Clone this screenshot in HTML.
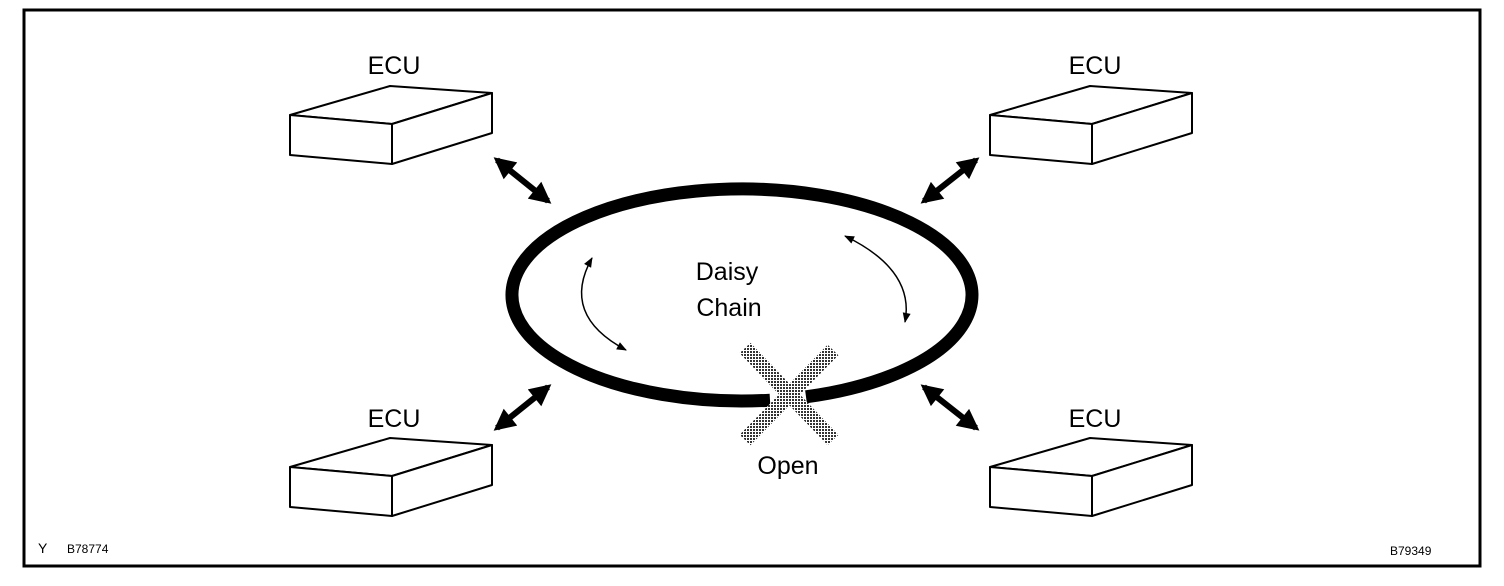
<!DOCTYPE html>
<html><head><style>body{margin:0;background:#fff}svg{display:block}</style></head><body>
<svg width="1504" height="586" xmlns="http://www.w3.org/2000/svg" font-family="Liberation Sans, sans-serif">
<defs>
<marker id="big" viewBox="0 0 10 10" refX="8" refY="5" markerWidth="4" markerHeight="3.6" orient="auto-start-reverse"><path d="M0,0L10,5L0,10z" fill="#000"/></marker>
<marker id="sm" viewBox="0 0 10 10" refX="9" refY="5" markerWidth="16" markerHeight="10" orient="auto-start-reverse" markerUnits="userSpaceOnUse"><path d="M0,1L10,5L0,9z" fill="#000"/></marker>
<pattern id="dots" width="3" height="3" patternUnits="userSpaceOnUse"><rect width="3" height="3" fill="#fff"/><rect width="2" height="2" fill="#333"/></pattern>
</defs>
<rect x="24" y="10" width="1456" height="556" fill="none" stroke="#000" stroke-width="3"/>
<g id="box" fill="#fff" stroke="#000" stroke-width="2" stroke-linejoin="round">
<polygon points="290,115 390,86 492,93 392,124"/>
<polygon points="290,115 392,124 392,164 290,155"/>
<polygon points="392,124 492,93 492,133 392,164"/>
</g>
<use href="#box" x="700"/>
<use href="#box" y="352"/>
<use href="#box" x="700" y="352"/>
<g font-size="25" text-anchor="middle">
<text x="394" y="74">ECU</text><text x="1095" y="74">ECU</text>
<text x="394" y="427">ECU</text><text x="1095" y="427">ECU</text>
<text x="727" y="280">Daisy</text><text x="729" y="316">Chain</text>
<text x="788" y="474">Open</text>
</g>
<g stroke="#000" stroke-width="6" marker-start="url(#big)" marker-end="url(#big)">
<line x1="497" y1="160" x2="548" y2="201"/>
<line x1="976" y1="160" x2="924" y2="201"/>
<line x1="497" y1="428" x2="548" y2="387"/>
<line x1="924" y1="387" x2="976" y2="428"/>
</g>
<path d="M770,400.2 A230,106 0 1 1 806,396.8" fill="none" stroke="#000" stroke-width="13"/>
<g fill="none" stroke="#000" stroke-width="1.5" marker-start="url(#sm)" marker-end="url(#sm)">
<path d="M592,258 Q560,315 626,350"/>
<path d="M845,236 Q915,270 905,322"/>
</g>
<g stroke="url(#dots)" stroke-width="15">
<line x1="745" y1="348" x2="833" y2="440"/>
<line x1="833" y1="350" x2="745" y2="440"/>
</g>
<text x="38" y="553" font-size="14">Y</text>
<text x="67" y="553" font-size="12">B78774</text>
<text x="1390" y="555" font-size="12">B79349</text>
</svg>
</body></html>
